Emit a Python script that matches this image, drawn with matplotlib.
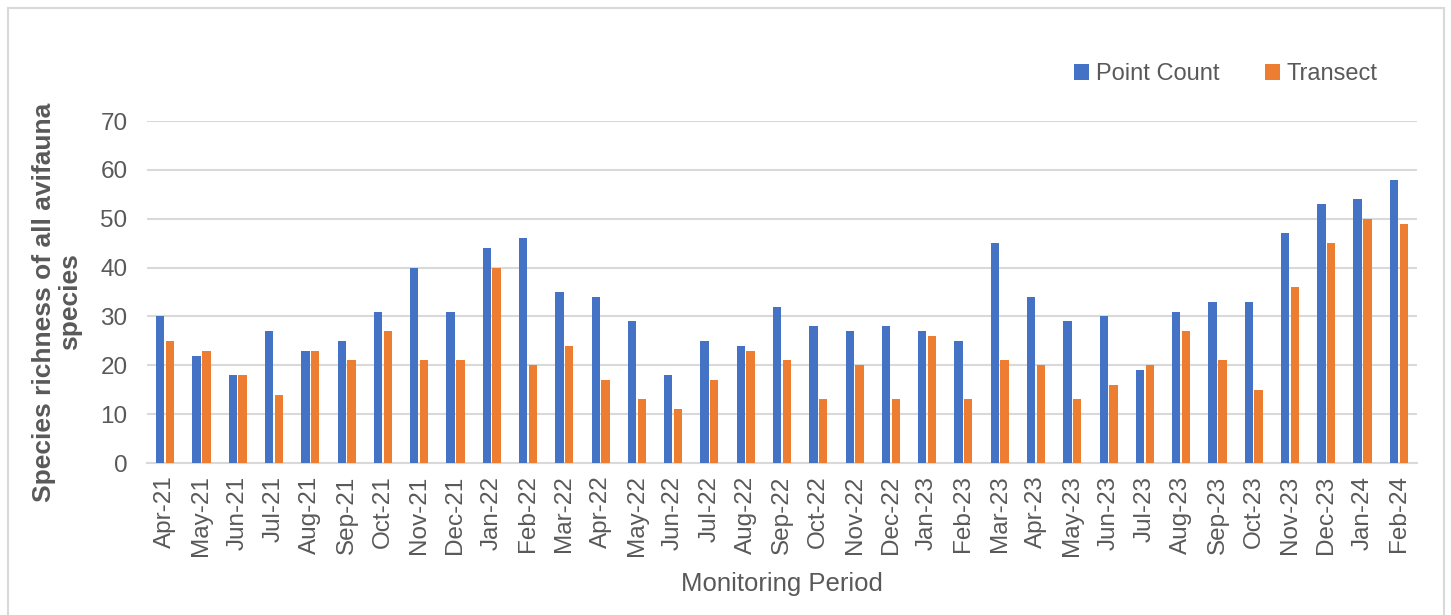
import matplotlib.pyplot as plt
import numpy as np
from matplotlib.patches import Rectangle

plt.rcParams['font.family'] = ['Liberation Sans', 'DejaVu Sans']

# data
months = ["Apr-21", "May-21", "Jun-21", "Jul-21", "Aug-21", "Sep-21", "Oct-21", "Nov-21",
          "Dec-21", "Jan-22", "Feb-22", "Mar-22", "Apr-22", "May-22", "Jun-22", "Jul-22",
          "Aug-22", "Sep-22", "Oct-22", "Nov-22", "Dec-22", "Jan-23", "Feb-23", "Mar-23",
          "Apr-23", "May-23", "Jun-23", "Jul-23", "Aug-23", "Sep-23", "Oct-23", "Nov-23",
          "Dec-23", "Jan-24", "Feb-24"]
point_count = [30, 22, 18, 27, 23, 25, 31, 40, 31, 44, 46, 35, 34, 29, 18, 25, 24, 32,
               28, 27, 28, 27, 25, 45, 34, 29, 30, 19, 31, 33, 33, 47, 53, 54, 58]
transect = [25, 23, 18, 14, 23, 21, 27, 21, 21, 40, 20, 24, 17, 13, 11, 17, 23, 21,
            13, 20, 13, 26, 13, 21, 20, 13, 16, 20, 27, 21, 15, 36, 45, 50, 49]

txt = "#595959"
grid = "#d9d9d9"

fig = plt.figure(figsize=(14.51, 6.15), dpi=100)
ax = fig.add_axes([147 / 1451, 1 - 463 / 615, 1270 / 1451, (463 - 121) / 615])

x = np.arange(len(months))
w = 0.23
ax.bar(x - w / 2 - 0.02, point_count, w, color="#4472c4", label="Point Count", zorder=3)
ax.bar(x + w / 2 + 0.02, transect, w, color="#ed7d31", label="Transect", zorder=3)

ax.set_xlim(-0.5, len(months) - 0.5)
ax.set_ylim(0, 70)
ax.set_yticks(range(0, 71, 10))
ax.yaxis.grid(True, color=grid, linewidth=1.5, zorder=0)
ax.set_xticks(x)
ax.set_xticklabels(months, rotation=90, fontsize=17.5, color=txt)
ax.tick_params(axis="y", labelsize=17.5, colors=txt, length=0, pad=14)
ax.tick_params(axis="x", length=0, pad=9)
for s in ["top", "right", "left"]:
    ax.spines[s].set_visible(False)
ax.spines["bottom"].set_color(grid)
ax.spines["bottom"].set_linewidth(1.5)

# y label placed by hand (two centred lines like the original)
fig.text(57 / 1451, 1 - 302 / 615, "Species richness of all avifauna\nspecies",
         rotation=90, ha="center", va="center", multialignment="center",
         fontsize=19, fontweight="bold", color=txt, linespacing=1.15)
ax.set_xlabel("Monitoring Period", fontsize=18.5, color=txt, labelpad=11)

ax.legend(loc="lower right", bbox_to_anchor=(0.986, 1.042), ncol=2, frameon=False,
          fontsize=17, labelcolor=txt, handlelength=0.65, handleheight=0.65,
          handletextpad=0.3, columnspacing=1.9)

fig.patches.append(Rectangle((8 / 1451, -0.01), 1436 / 1451, 1 - 8 / 615 + 0.01,
                             transform=fig.transFigure, fill=False,
                             edgecolor=grid, linewidth=1.5))

fig.savefig("out.png", dpi=100)
